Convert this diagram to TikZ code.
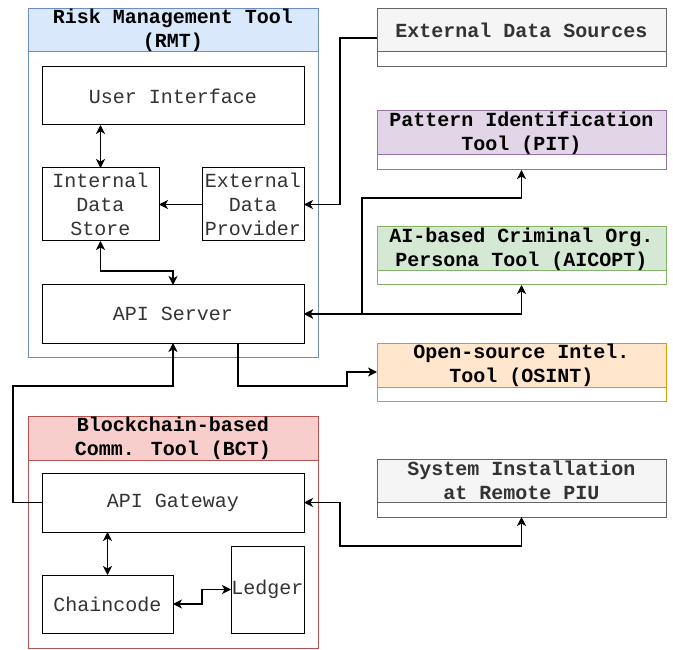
\documentclass[tikz,border=0pt]{standalone}
\usepackage{fontspec}
\setmainfont{Liberation Mono}
\usetikzlibrary{arrows.meta}
\definecolor{rmtfill}{HTML}{DAE8FC}\definecolor{rmtline}{HTML}{6C8EBF}
\definecolor{bctfill}{HTML}{F8CECC}\definecolor{bctline}{HTML}{B85450}
\definecolor{grayfill}{HTML}{F5F5F5}\definecolor{grayline}{HTML}{666666}
\definecolor{pitfill}{HTML}{E1D5E7}\definecolor{pitline}{HTML}{9673A6}
\definecolor{aifill}{HTML}{D5E8D4}\definecolor{ailine}{HTML}{82B366}
\definecolor{osfill}{HTML}{FFE6CC}\definecolor{osline}{HTML}{D79B00}
\begin{document}
\begin{tikzpicture}[x=1pt,y=-1pt,
  every node/.style={inner sep=0pt, outer sep=0pt, align=center, font=\fontsize{20}{24}\selectfont},
  inbox/.style={draw=black, line width=1pt, fill=white, text=black!80},
  cont/.style={line width=1pt, fill=white},
  hdr/.style={line width=1pt, font=\fontsize{20}{24}\selectfont\bfseries, text=black},
  conn/.style={line width=1.2pt, black, >={Stealth[length=9pt,width=9pt,inset=2.5pt]}}]
\useasboundingbox[fill=white] (0,0) rectangle (673,650);
% RMT container
\node[cont, draw=rmtline, minimum width=290, minimum height=348] (rmt) at (173,183) {};
\node[hdr, draw=rmtline, fill=rmtfill, minimum width=290, minimum height=43] (rmth) at (173,30.5) {Risk Management Tool\\(RMT)};
% BCT container
\node[cont, draw=bctline, minimum width=290, minimum height=232] (bct) at (173,532) {};
\node[hdr, draw=bctline, fill=bctfill, minimum width=290, minimum height=44] (bcth) at (173,438) {Blockchain-based\\Comm. Tool (BCT)};
% right boxes
\node[cont, draw=grayline, minimum width=289, minimum height=58] (eds) at (521.5,38) {};
\node[hdr, draw=grayline, fill=grayfill, minimum width=289, minimum height=43, text=black!80] (edsh) at (521.5,30.5) {External Data Sources};
\node[cont, draw=pitline, minimum width=289, minimum height=59] (pit) at (521.5,140.5) {};
\node[hdr, draw=pitline, fill=pitfill, minimum width=289, minimum height=44] (pith) at (521.5,133) {Pattern Identification\\Tool (PIT)};
\node[cont, draw=ailine, minimum width=289, minimum height=58] (aic) at (521.5,256) {};
\node[hdr, draw=ailine, fill=aifill, minimum width=289, minimum height=44] (aich) at (521.5,249) {AI-based Criminal Org.\\Persona Tool (AICOPT)};
\node[cont, draw=osline, minimum width=289, minimum height=58] (osint) at (521.5,372) {};
\node[hdr, draw=osline, fill=osfill, minimum width=289, minimum height=44] (osinth) at (521.5,365) {Open-source Intel.\\Tool (OSINT)};
\node[cont, draw=grayline, minimum width=289, minimum height=58] (si) at (521.5,488) {};
\node[hdr, draw=grayline, fill=grayfill, minimum width=289, minimum height=43, text=black!80] (sih) at (521.5,480.5) {System Installation\\at Remote PIU};
% inner boxes
\node[inbox, minimum width=262, minimum height=58] (ui) at (173,96) {User Interface};
\node[inbox, minimum width=117, minimum height=73] (ids) at (100.5,204.5) {Internal\\Data\\Store};
\node[inbox, minimum width=102, minimum height=73] (edp) at (253,204.5) {External\\Data\\Provider};
\node[inbox, minimum width=262, minimum height=58] (api) at (173,314) {API Server};
\node[inbox, minimum width=262, minimum height=59] (gw) at (173,502.5) {API Gateway};
\node[inbox, minimum width=131, minimum height=58] (chain) at (107.5,604) {Chaincode};
\node[inbox, minimum width=73, minimum height=87] (ledger) at (267.5,589.5) {Ledger};
% connectors
\draw[conn,<->] (ids.north) -- (ids.north |- ui.south);
\draw[conn,->] (edp.west) -- (ids.east);
\draw[conn,->] (eds.west) -- (340,38) -- (340,204.5) -- (edp.east);
\draw[conn,<->] (ids.south) -- (100.5,271) -| (api.north);
\draw[conn,<->] (api.east) -- (362,314) -- (362,198) -| (pit.south);
\draw[conn,<->] (api.east) -| (aic.south);
\draw[conn,->] ([xshift=65pt]api.south) -- (238,386) -- (347,386) -- (347,372) -- (osint.west);
\draw[conn,->] (gw.west) -- (13,502.5) -- (13,386) -| (api.south);
\draw[conn,<->] (chain.north) -- (chain.north |- gw.south);
\draw[conn,<->] (chain.east) -- (202,604) |- (ledger.west);
\draw[conn,<->] (gw.east) -- (340,502.5) -- (340,546) -| (si.south);
\end{tikzpicture}
\end{document}
